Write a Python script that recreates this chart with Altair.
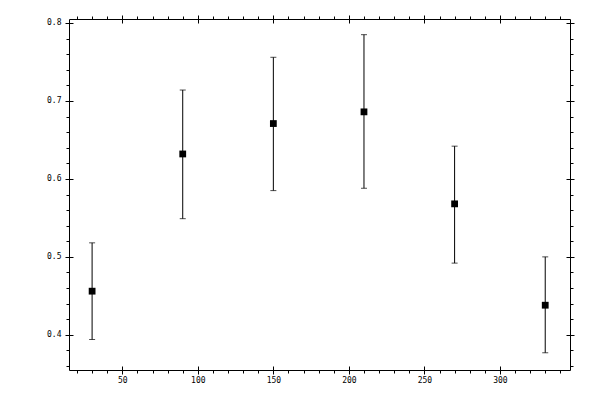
import altair as alt
import pandas as pd

# ---- data ----
x_vals = [30, 90, 150, 210, 270, 330]
y_vals = [0.456, 0.632, 0.671, 0.686, 0.568, 0.438]
y_lo = [0.394, 0.549, 0.585, 0.588, 0.492, 0.377]
y_hi = [0.518, 0.714, 0.756, 0.785, 0.642, 0.500]

# ---- axis tick values ----
x_major = [50, 100, 150, 200, 250, 300]
x_minor = [20, 30, 40, 50, 60, 70, 80, 90, 100, 110, 120, 130, 140, 150, 160,
           170, 180, 190, 200, 210, 220, 230, 240, 250, 260, 270, 280, 290,
           300, 310, 320, 330, 340]
y_major = [0.4, 0.5, 0.6, 0.7, 0.8]
y_minor = [0.36, 0.38, 0.40, 0.42, 0.44, 0.46, 0.48, 0.50, 0.52, 0.54, 0.56,
           0.58, 0.60, 0.62, 0.64, 0.66, 0.68, 0.70, 0.72, 0.74, 0.76, 0.78, 0.80]

X_DOM = [14.7, 346.4]
Y_DOM = [0.3549, 0.8051]

df = pd.DataFrame({"x": x_vals, "y": y_vals, "lo": y_lo, "hi": y_hi})

xs = alt.Scale(domain=X_DOM, nice=False, zero=False)
ys = alt.Scale(domain=Y_DOM, nice=False, zero=False)

FONT = "DejaVu Sans Mono"
base_ax = dict(title=None, grid=False, tickColor="black", tickWidth=1,
               domainColor="black", domainWidth=1, labelFont=FONT,
               labelFontSize=8, labelColor="black", labelOverlap=False,
               labelFlush=False, labelBound=False)

X_LAB = "datum.value % 50 === 0 ? datum.label : ''"
Y_LAB = "abs(datum.value*10 - round(datum.value*10)) < 0.001 ? datum.label : ''"


def minor_axis(orient, values, labels, expr=None, fmt=None, pad=0):
    kw = dict(base_ax, orient=orient, values=values, tickSize=3, domain=True,
              labels=labels, labelPadding=pad)
    if expr:
        kw["labelExpr"] = expr
    if fmt:
        kw["format"] = fmt
    return alt.Axis(**kw)


def major_axis(orient, values):
    return alt.Axis(**dict(base_ax, orient=orient, values=values, tickSize=8,
                           offset=-4, domain=False, labels=False))


base = alt.Chart(df)

# error bar stems with main (labelled) bottom/left axes
stems = base.mark_rule(color="black", strokeWidth=1).encode(
    x=alt.X("x:Q", scale=xs, axis=minor_axis("bottom", x_minor, True, X_LAB, "d", 3)),
    y=alt.Y("lo:Q", scale=ys, axis=minor_axis("left", y_minor, True, Y_LAB, ".1f", 5)),
    y2="hi:Q",
)

# crossing major ticks bottom/left
maj_bl = base.mark_point(opacity=0).encode(
    x=alt.X("x:Q", scale=xs, axis=major_axis("bottom", x_major)),
    y=alt.Y("y:Q", scale=ys, axis=major_axis("left", y_major)),
)

# mirror minor ticks top/right
min_tr = base.mark_point(opacity=0).encode(
    x=alt.X("x:Q", scale=xs, axis=minor_axis("top", x_minor, False)),
    y=alt.Y("y:Q", scale=ys, axis=minor_axis("right", y_minor, False)),
)

# mirror crossing major ticks top/right
maj_tr = base.mark_point(opacity=0).encode(
    x=alt.X("x:Q", scale=xs, axis=major_axis("top", x_major)),
    y=alt.Y("y:Q", scale=ys, axis=major_axis("right", y_major)),
)

cap_hi = base.mark_tick(orient="horizontal", size=6, thickness=1, color="black").encode(
    x=alt.X("x:Q", scale=xs, axis=None),
    y=alt.Y("hi:Q", scale=ys, axis=None),
)
cap_lo = base.mark_tick(orient="horizontal", size=6, thickness=1, color="black").encode(
    x=alt.X("x:Q", scale=xs, axis=None),
    y=alt.Y("lo:Q", scale=ys, axis=None),
)

squares = base.mark_square(size=46, color="black", filled=True, opacity=1).encode(
    x=alt.X("x:Q", scale=xs, axis=None),
    y=alt.Y("y:Q", scale=ys, axis=None),
)

chart = alt.layer(stems, maj_bl, min_tr, maj_tr, cap_hi, cap_lo, squares).resolve_axis(
    x="independent", y="independent"
).properties(
    width=501,
    height=351,
    padding={"left": 61, "top": 11, "right": 20, "bottom": 20},
    autosize=alt.AutoSizeParams(type="none"),
    background="white",
).configure_view(stroke=None)

chart.save("out.html", embed_options={"renderer": "svg", "actions": False})
